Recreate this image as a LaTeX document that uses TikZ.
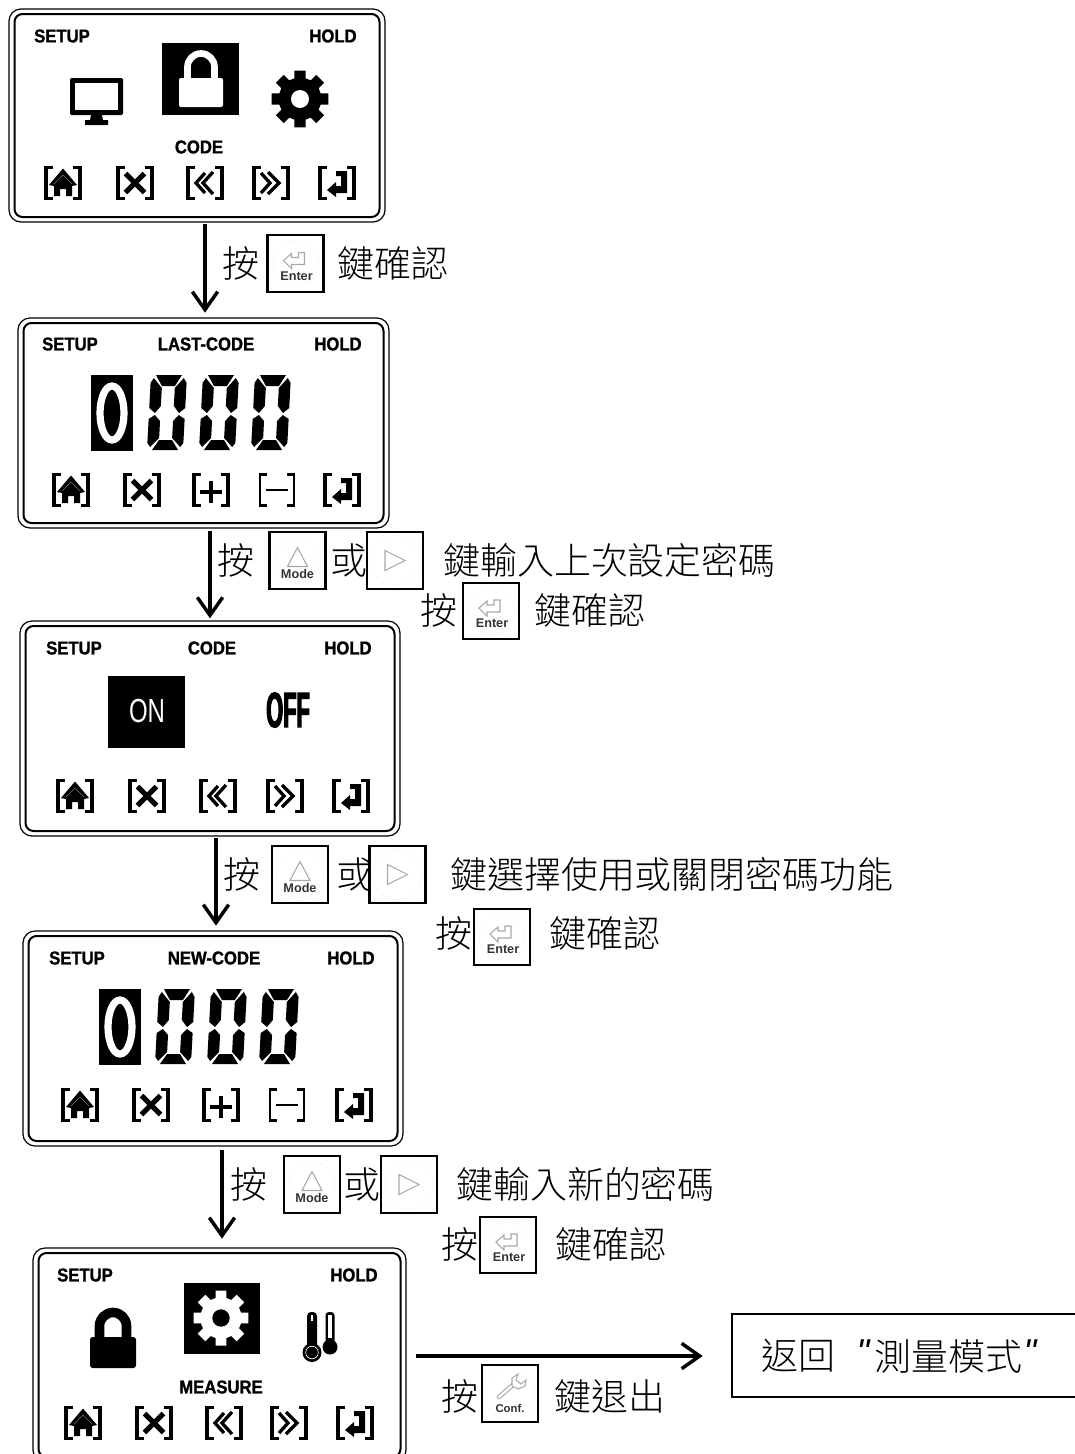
\documentclass[tikz,border=0pt]{standalone}
\usepackage{fontspec}
\usetikzlibrary{arrows.meta}
\newfontfamily\cjk{Noto Sans CJK TC Light}
\newfontfamily\lcdf{Liberation Sans}[FakeStretch=0.9,BoldFeatures={FakeStretch=0.9,FakeBold=1.2}]
\newfontfamily\lcdthin{Liberation Sans}[FakeStretch=0.72]
\newfontfamily\lcdoff{Liberation Sans}[FakeStretch=0.44,BoldFeatures={FakeStretch=0.44,FakeBold=2.5}]
\newfontfamily\keyf{Liberation Sans}
\definecolor{keygray}{gray}{0.66}
\definecolor{keyring}{rgb}{0.85,0.95,0.85}
\tikzset{
  frameout/.style={draw=black,line width=0.9pt,rounded corners=9pt,inner sep=0pt,outer sep=0pt,anchor=north west},
  framein/.style={draw=black,line width=1.5pt,rounded corners=6pt,inner sep=0pt,outer sep=0pt,anchor=north west},
  lcdlabel/.style={inner sep=0pt,font=\lcdf\bfseries\fontsize{13.9pt}{15pt}\selectfont,text=black},
  cjklabel/.style={inner sep=0pt,font=\cjk\fontsize{27.7pt}{30pt}\selectfont,text=black},
  keybox/.style={draw=black,line width=1.6pt,inner sep=0pt,outer sep=0pt,minimum width=42pt,minimum height=42.5pt,fill=white},
  keyname/.style={inner sep=0pt,font=\keyf\bfseries\fontsize{9.5pt}{10pt}\selectfont,text=black!80},
  keyicon/.style={draw=keygray,line width=0.8pt,line join=miter},
  keycircle/.style={draw=keyring,line width=0.4pt,densely dotted},
  flow/.style={draw=black,line width=2.6pt,-{Straight Barb[length=13.5pt,width=19pt,line width=2.6pt]}},
  brk/.style={line width=2.7pt,line cap=butt,line join=miter},
  brkthin/.style={line width=2.2pt,line cap=butt,line join=miter}
}
% ---------- panels
\newcommand{\lcdpanel}[5]{%
  \node[frameout,minimum width={(#4-#2)*0.75pt},minimum height={(#5-#3)*0.75pt}] (#1) at (#2,#3) {};
  \node[framein,minimum width={(#4-#2-11)*0.75pt},minimum height={(#5-#3-10)*0.75pt}] (#1i) at (#2+5.5,#3+5) {};
}
\newcommand{\lcdt}[4]{\node[lcdlabel] (#1) at (#2,#3) {#4};}
\newcommand{\cj}[5]{\node[cjklabel,anchor=#4] (#1) at (#2,#3) {#5};}
% ---------- softkey icons
\newcommand{\brackets}[3][brk]{%
  \draw[#1] (#2-10,#3-15.5)--(#2-17,#3-15.5)--(#2-17,#3+15.5)--(#2-10,#3+15.5);
  \draw[#1] (#2+10,#3-15.5)--(#2+17,#3-15.5)--(#2+17,#3+15.5)--(#2+10,#3+15.5);
}
\newcommand{\skhome}[2]{\brackets{#1}{#2}
  \begin{scope}[shift={(#1,#2)}]
   \fill (-14,2)--(0,-14.5)--(14,2)--(9,3)--(9,13)--(3,13)--(3,6)--(-3,6)--(-3,13)--(-9,13)--(-9,3)--cycle;
   \draw[black!55,line width=0.4pt] (-9,1)--(0,-8)--(9,1);
  \end{scope}}
\newcommand{\skx}[2]{\brackets{#1}{#2}
  \draw[line width=3.9pt] (#1-9.5,#2-9.5)--(#1+9.5,#2+9.5) (#1-9.5,#2+9.5)--(#1+9.5,#2-9.5);}
\newcommand{\skleft}[2]{\brackets{#1}{#2}
  \draw[line width=2.5pt,line join=miter] (#1+0,#2-10)--(#1-9,#2)--(#1+0,#2+10) (#1+8,#2-11)--(#1-2,#2)--(#1+8,#2+11);}
\newcommand{\skright}[2]{\brackets{#1}{#2}
  \draw[line width=2.5pt,line join=miter] (#1-10,#2-10)--(#1-1,#2)--(#1-10,#2+10) (#1-3,#2-11)--(#1+8,#2)--(#1-3,#2+11);}
\newcommand{\skenter}[2]{\brackets{#1}{#2}
  \begin{scope}[shift={(#1,#2)}]
   \fill (-10,7)--(-1,-1)--(-1,3)--(4,3)--(4,-7)--(-1,-7)--(-1,-12)--(10,-12)--(10,10)--(-1,10)--(-1,14)--cycle;
  \end{scope}}
\newcommand{\skplus}[2]{\brackets{#1}{#2}
  \draw[line width=3.4pt] (#1-11,#2+2)--(#1+11,#2+2) (#1,#2-9)--(#1,#2+13);}
\newcommand{\skminus}[2]{\brackets[brkthin]{#1}{#2}
  \draw[line width=1.2pt] (#1-11,#2)--(#1+11,#2);}
% ---------- seven-segment zero
\newcommand{\segzero}[2]{%
  \begin{scope}[shift={(#1+4,#2)},x={(0.75pt,0pt)},y={(-0.04pt,-0.75pt)}]
   \fill (5,0)--(31,0)--(24.5,11)--(11.5,11)--cycle;
   \fill (3,3)--(11.5,13)--(11.5,31)--(6,38)--(0,33)--(0,8)--cycle;
   \fill (33,3)--(24.5,13)--(24.5,31)--(30,38)--(36,33)--(36,8)--cycle;
   \fill (6,40)--(0,44)--(0,68)--(3,72)--(11.5,63)--(11.5,46)--cycle;
   \fill (30,40)--(36,44)--(36,68)--(33,72)--(24.5,63)--(24.5,46)--cycle;
   \fill (5,75)--(11.5,65)--(24.5,65)--(31,75)--cycle;
  \end{scope}}
\newcommand{\selzero}[2]{%
  \fill (#1,#2) rectangle (#1+42,#2+76);
  \draw[white,line width=5.4pt] (#1+21,#2+38) ellipse [x radius=12,y radius=27];}
% ---------- gear
\newcommand{\gearshape}[5]{%
  \begin{scope}[shift={(#1,#2)}]
   \fill[#3] (-11:#5) \foreach \a in {0,45,...,315}{ -- (\a-11:#5) -- (\a+11:#5) -- (\a+15:#5*0.74) -- (\a+30:#5*0.74)} -- cycle;
   \fill[#4] (0,0) circle [radius=#5*0.31];
  \end{scope}}
% ---------- keys
\newcommand{\keyenter}[3]{%
  \node[keybox] (#1) at (#2,#3) {};
  \draw[keycircle] (#2,#3) circle [radius=23];
  \begin{scope}[shift={(#2,#3)}]
   \draw[keyicon] (-12,-3)--(-4,-10)--(-4,-6)--(3,-6)--(3,-11)--(9,-11)--(9,1)--(-4,1)--(-4,5)--cycle;
  \end{scope}
  \node[keyname] (#1n) at (#2+1,#3+12.5) {Enter};}
\newcommand{\keymode}[3]{%
  \node[keybox] (#1) at (#2,#3) {};
  \draw[keycircle] (#2,#3) circle [radius=23];
  \begin{scope}[shift={(#2,#3)}]
   \draw[keyicon] (0,-13)--(10,6)--(-10,6)--cycle;
  \end{scope}
  \node[keyname] (#1n) at (#2,#3+13) {Mode};}
\newcommand{\keynext}[3]{%
  \node[keybox] (#1) at (#2,#3) {};
  \draw[keycircle] (#2,#3) circle [radius=25];
  \begin{scope}[shift={(#2,#3)}]
   \draw[keyicon] (-10,-10)--(10,0)--(-10,10)--cycle;
  \end{scope}}
\begin{document}
\begin{tikzpicture}[x=0.75pt,y=-0.75pt]
\useasboundingbox (0,0) rectangle (1075,1454);
\clip (0,0) rectangle (1075,1454);
\fill[white] (0,0) rectangle (1075,1454);

% ===== Panel 1
\lcdpanel{p1}{9}{9}{385}{222}
\lcdt{p1a}{62}{36}{SETUP}\lcdt{p1b}{333}{36}{HOLD}\lcdt{p1c}{199}{147}{CODE}
\fill[rounded corners=1pt] (70,78) rectangle (123,115);
\fill[white] (75,83) rectangle (118,110);
\fill (91,115)--(102,115)--(103,120)--(108,120)--(108,125)--(85,125)--(85,120)--(90,120)--cycle;
\fill (162,43) rectangle (239,115);
\draw[white,line width=5pt] (187.5,80)--(187.5,67) arc [start angle=180,end angle=360,radius=13.5]--(214.5,80);
\fill[white,rounded corners=1.5pt] (179,78) rectangle (223,107);
\gearshape{300}{99}{black}{white}{29}
\skhome{63}{183}\skx{135}{183}\skleft{205}{183}\skright{271}{183}\skenter{337}{183}

% ===== Panel 2
\lcdpanel{p2}{18}{318}{389}{528}
\lcdt{p2a}{70}{344}{SETUP}\lcdt{p2b}{206}{344}{LAST-CODE}\lcdt{p2c}{338}{344}{HOLD}
\selzero{91}{375}\segzero{147}{375}\segzero{199}{375}\segzero{251}{375}
\skhome{71}{490}\skx{142}{490}\skplus{211}{490}\skminus{277}{490}\skenter{342}{490}

% ===== Panel 3
\lcdpanel{p3}{20}{621}{400}{836}
\lcdt{p3a}{74}{648}{SETUP}\lcdt{p3b}{212}{648}{CODE}\lcdt{p3c}{348}{648}{HOLD}
\fill (108,676) rectangle (185,748);
\node[inner sep=0pt,text=white,font=\lcdthin\fontsize{25pt}{27pt}\selectfont] (p3on) at (147,711) {ON};
\node[inner sep=0pt,font=\lcdoff\bfseries\fontsize{37pt}{39pt}\selectfont] (p3off) at (288,710) {OFF};
\skhome{75}{796}\skx{147}{796}\skleft{218}{796}\skright{285}{796}\skenter{351}{796}

% ===== Panel 4
\lcdpanel{p4}{23}{931}{403}{1146}
\lcdt{p4a}{77}{958}{SETUP}\lcdt{p4b}{214}{958}{NEW-CODE}\lcdt{p4c}{351}{958}{HOLD}
\selzero{99}{989}\segzero{155}{989}\segzero{207}{989}\segzero{259}{989}
\skhome{80}{1105}\skx{151}{1105}\skplus{221}{1105}\skminus{287}{1105}\skenter{354}{1105}

% ===== Panel 5
\lcdpanel{p5}{33}{1248}{406}{1462}
\lcdt{p5a}{85}{1275}{SETUP}\lcdt{p5b}{354}{1275}{HOLD}\lcdt{p5c}{221}{1387}{MEASURE}
\draw[line width=7.2pt] (99.5,1340)--(99.5,1326) arc [start angle=180,end angle=360,radius=13.5]--(126.5,1340);
\fill[rounded corners=2pt] (90,1337) rectangle (136,1368);
\fill (184,1283) rectangle (260,1354);
\gearshape{221}{1318}{white}{black}{28}
\fill[black] (312,1352.5) circle [radius=9.5];
\fill[black,rounded corners=3pt] (307,1312) rectangle (317,1350);
\fill[white] (311,1315) rectangle (313,1321);
\draw[white,line width=0.5pt] (312,1352.5) circle [radius=6.3];
\fill[black] (330,1347) circle [radius=7.5];
\fill[black,rounded corners=2.5pt] (325.5,1312) rectangle (334.5,1344);
\fill[white] (328,1315) rectangle (332,1338);
\skhome{83}{1423}\skx{154}{1423}\skleft{224}{1423}\skright{289}{1423}\skenter{355}{1423}

% ===== Final box
\node[draw=black,line width=1.1pt,inner sep=0pt,outer sep=0pt,anchor=north west,minimum width=265pt,minimum height=62.25pt] (ret) at (732,1314) {};
\cj{rett}{761}{1356}{west}{返回}
\cj{retq}{874}{1356}{west}{測量模式}
\node[inner sep=0pt,font=\keyf\itshape\fontsize{27pt}{30pt}\selectfont] (retl) at (863,1352) {"};
\node[inner sep=0pt,font=\keyf\itshape\fontsize{27pt}{30pt}\selectfont] (retr) at (1030,1352) {"};

% ===== Connectors
\coordinate (a1) at (205,0);\coordinate (a2) at (210,0);\coordinate (a3) at (216,0);\coordinate (a4) at (222,0);\coordinate (a5) at (0,1356);
\draw[flow] ([yshift=-1.5pt]a1 |- p1.south) -- ([yshift=4pt]a1 |- p2.north);
\draw[flow] ([yshift=-2pt]a2 |- p2.south) -- ([yshift=2pt]a2 |- p3.north);
\draw[flow] ([yshift=-1.5pt]a3 |- p3.south) -- ([yshift=4pt]a3 |- p4.north);
\draw[flow] ([yshift=-3pt]a4 |- p4.south) -- ([yshift=7pt]a4 |- p5.north);
\draw[flow] ([xshift=7.5pt]p5.east |- a5) -- ([xshift=-22pt]ret.west |- a5);

% ===== Row 1
\cj{r1a}{241}{263}{center}{按}\keyenter{k1}{295.5}{263.5}\cj{r1b}{337}{263}{west}{鍵確認}
% ===== Row 2
\cj{r2a}{236}{560}{center}{按}\keymode{k2}{297.5}{560.5}\cj{r2b}{349}{560}{center}{或}\keynext{k3}{395}{560.5}\cj{r2c}{443}{560}{west}{鍵輸入上次設定密碼}
\cj{r2d}{439}{610}{center}{按}\keyenter{k4}{491}{611}\cj{r2e}{534}{610}{west}{鍵確認}
% ===== Row 3
\cj{r3a}{242}{874}{center}{按}\keymode{k5}{300}{874.5}\cj{r3b}{355}{874}{center}{或}\keynext{k6}{397.5}{874.5}\cj{r3c}{450}{874}{west}{鍵選擇使用或關閉密碼功能}
\cj{r3d}{454}{933}{center}{按}\keyenter{k7}{502}{937}\cj{r3e}{549}{933}{west}{鍵確認}
% ===== Row 4
\cj{r4a}{249}{1184}{center}{按}\keymode{k8}{312}{1184.5}\cj{r4b}{362}{1184}{center}{或}\keynext{k9}{409}{1184.5}\cj{r4c}{456}{1184}{west}{鍵輸入新的密碼}
\cj{r4d}{460}{1244}{center}{按}\keyenter{k10}{508}{1245}\cj{r4e}{555}{1244}{west}{鍵確認}
% ===== Row 5
\cj{r5a}{460}{1396}{center}{按}
\node[keybox] (k11) at (510,1393.5) {};
\draw[keycircle] (510,1393.5) ellipse [x radius=25,y radius=27];
\draw[keygray,line width=3.4pt,line cap=round] (499,1397)--(514,1384);
\draw[white,line width=1.8pt,line cap=round] (499,1397)--(514,1384);
\draw[keygray,line width=0.8pt,fill=white] (512,1386)--(512,1378)--(518,1374)--(516,1380)--(521,1384)--(526,1380)--(525,1386)--(518,1389)--cycle;
\node[keyname,font=\keyf\bfseries\fontsize{8.5pt}{9pt}\selectfont] (k11n) at (510,1408) {Conf.};
\cj{r5b}{554}{1396}{west}{鍵退出}
\end{tikzpicture}
\end{document}
